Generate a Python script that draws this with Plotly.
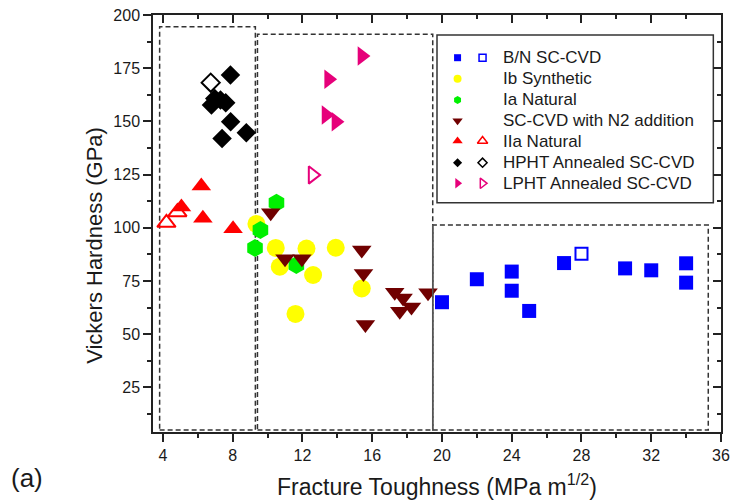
import plotly.graph_objects as go

# ---------------- data ----------------
bn_x = [20.0, 22.0, 24.0, 24.0, 25.0, 27.0, 30.5, 32.0, 34.0, 34.0]
bn_y = [65.0, 75.8, 79.4, 70.4, 60.9, 83.4, 80.9, 80.0, 83.3, 74.2]
bn_open_x = [28.0]
bn_open_y = [87.8]

ib_x = [9.36, 10.47, 10.70, 12.23, 12.61, 13.91, 15.40, 11.60]
ib_y = [101.8, 90.5, 81.7, 90.2, 77.8, 90.6, 71.5, 59.5]

ia_x = [10.51, 9.59, 9.28, 11.65]
ia_y = [111.8, 98.9, 90.5, 82.5]

n2_x = [10.18, 11.0, 11.97, 15.40, 15.50, 15.61, 17.29, 17.77, 18.25, 17.58, 19.2]
n2_y = [107.0, 85.4, 85.4, 89.5, 78.5, 54.5, 69.7, 67.0, 62.8, 60.8, 69.4]

iia_x = [6.20, 6.29, 8.02, 5.06]
iia_y = [119.6, 104.5, 99.5, 109.7]
iia_open_x = [4.2, 4.83]
iia_open_y = [102.3, 107.3]

hpht_x = [7.87, 6.97, 6.78, 7.60, 7.30, 7.88, 8.78, 7.39]
hpht_y = [171.8, 160.8, 157.7, 158.8, 160.0, 149.8, 144.7, 141.9]
hpht_open_x = [6.74]
hpht_open_y = [168.2]

lpht_x = [15.41, 13.50, 13.35, 13.92]
lpht_y = [180.7, 169.8, 153.0, 149.8]
lpht_open_x = [12.58]
lpht_open_y = [124.8]

legend_labels = ["B/N SC-CVD", "Ib Synthetic", "Ia Natural", "SC-CVD with N2 addition",
                 "IIa Natural", "HPHT Annealed SC-CVD", "LPHT Annealed SC-CVD"]

# region boxes (data coords): x0, x1, y0, y1
boxes = [(3.81, 9.30, 4.9, 194.5), (9.42, 19.47, 4.9, 190.9), (19.47, 35.27, 4.9, 101.3)]

x_range = [3.43, 36.0]
y_range = [4.0, 200.0]

# ---------------- styling ----------------
BLUE = "#0000FF"
YELLOW = "#FFFF00"
GREEN = "#00F000"
DRED = "#700000"
RED = "#FF0000"
BLACK = "#000000"
PINK = "#E6007A"
FONT = "Arial, Liberation Sans, sans-serif"
TXT = "#1a1a1a"

fig = go.Figure()

def filled(x, y, sym, color, size):
    fig.add_trace(go.Scatter(x=x, y=y, mode="markers", showlegend=False, hoverinfo="skip",
                             marker=dict(symbol=sym, color=color, size=size, line=dict(width=0))))

def hollow(x, y, sym, color, size):
    fig.add_trace(go.Scatter(x=x, y=y, mode="markers", showlegend=False, hoverinfo="skip",
                             marker=dict(symbol=sym + "-open", color=color, size=size,
                                         line=dict(width=2, color=color))))

filled(bn_x, bn_y, "square", BLUE, 14)
hollow(bn_open_x, bn_open_y, "square", BLUE, 12)
filled(ib_x, ib_y, "circle", YELLOW, 18)
filled(ia_x, ia_y, "hexagon", GREEN, 18)
filled(n2_x, n2_y, "triangle-down", DRED, 17)
filled(iia_x, iia_y, "triangle-up", RED, 17)
hollow(iia_open_x, iia_open_y, "triangle-up", RED, 16)
filled(hpht_x, hpht_y, "diamond", BLACK, 15)
hollow(hpht_open_x, hpht_open_y, "diamond", BLACK, 14)
filled(lpht_x, lpht_y, "triangle-right", PINK, 17)
hollow(lpht_open_x, lpht_open_y, "triangle-right", PINK, 15)

# dummy trace for mirrored axes
fig.add_trace(go.Scatter(x=[None], y=[None], xaxis="x2", yaxis="y2", showlegend=False,
                         hoverinfo="skip", mode="markers"))

# ---------------- legend (drawn in a 0..1 overlay axis) ----------------
leg_rows = [0.8976, 0.8472, 0.7962, 0.7465, 0.6978, 0.6458, 0.5964]
col_f, col_o, col_t = 0.5362, 0.5802, 0.6119
leg_syms = [("square", BLUE, True), ("circle", YELLOW, False), ("hexagon", GREEN, False),
            ("triangle-down", DRED, False), ("triangle-up", RED, True),
            ("diamond", BLACK, True), ("triangle-right", PINK, True)]
leg_sizes = [7, 8, 8, 9, 9, 7, 9]
for (sym, col, has_open), yy, sz, lab in zip(leg_syms, leg_rows, leg_sizes, legend_labels):
    fig.add_trace(go.Scatter(x=[col_f], y=[yy], xaxis="x3", yaxis="y3", mode="markers",
                             showlegend=False, hoverinfo="skip",
                             marker=dict(symbol=sym, color=col, size=sz, line=dict(width=0))))
    if has_open:
        fig.add_trace(go.Scatter(x=[col_o], y=[yy], xaxis="x3", yaxis="y3", mode="markers",
                                 showlegend=False, hoverinfo="skip",
                                 marker=dict(symbol=sym + "-open", color=col, size=sz,
                                             line=dict(width=1.5, color=col))))
    fig.add_annotation(x=col_t, y=yy, xref="paper", yref="paper", text=lab, showarrow=False,
                       xanchor="left", yanchor="middle", font=dict(family=FONT, size=17, color=TXT))

shapes = []
for x0, x1, y0, y1 in boxes:
    shapes.append(dict(type="rect", xref="x", yref="y", x0=x0, x1=x1, y0=y0, y1=y1,
                       line=dict(color="#333333", width=1.5, dash="5px,3px"), layer="below"))
shapes.append(dict(type="line", xref="x", yref="y", x0=boxes[2][0], x1=boxes[2][0],
                   y0=boxes[2][2], y1=boxes[2][3], line=dict(color="#555555", width=1.5)))
shapes.append(dict(type="rect", xref="paper", yref="paper", x0=0.500, x1=0.9865, y0=0.550, y1=0.952,
                   line=dict(color="#333333", width=1.5), fillcolor="white", layer="below"))

axis_common = dict(showgrid=False, zeroline=False, linecolor="#222222", linewidth=1.5,
                   tickcolor="#222222", tickwidth=1.5, automargin=False)

fig.update_layout(
    width=731, height=504,
    margin=dict(l=153, r=10, t=15, b=72),
    paper_bgcolor="white", plot_bgcolor="white",
    shapes=shapes,
    xaxis=dict(range=x_range, tick0=4, dtick=4, ticks="outside", ticklen=8, showline=True,
               tickfont=dict(family=FONT, size=16, color=TXT),
               minor=dict(dtick=2, ticks="outside", ticklen=4, tickcolor="#222222", tickwidth=1.5),
               **axis_common),
    yaxis=dict(range=y_range, tick0=0, dtick=25, ticks="outside", ticklen=8, showline=True,
               tickfont=dict(family=FONT, size=16, color=TXT),
               minor=dict(dtick=12.5, ticks="outside", ticklen=4, tickcolor="#222222", tickwidth=1.5),
               **axis_common),
    xaxis2=dict(range=x_range, overlaying="x", side="top", anchor="y", tick0=4, dtick=4,
                ticks="inside", ticklen=8, showticklabels=False, showline=True,
                minor=dict(dtick=2, ticks="inside", ticklen=4, tickcolor="#222222", tickwidth=1.5),
                **axis_common),
    yaxis2=dict(range=y_range, overlaying="y", side="right", anchor="x", tick0=0, dtick=25,
                ticks="inside", ticklen=8, showticklabels=False, showline=True,
                minor=dict(dtick=12.5, ticks="inside", ticklen=4, tickcolor="#222222", tickwidth=1.5),
                **axis_common),
    xaxis3=dict(range=[0, 1], overlaying="x", visible=False, fixedrange=True, automargin=False),
    yaxis3=dict(range=[0, 1], overlaying="y", visible=False, fixedrange=True, automargin=False),
    annotations=list(fig.layout.annotations) + [
        dict(x=0.5, y=-0.128, xref="paper", yref="paper", showarrow=False,
             text="Fracture Toughness (MPa m<sup>1/2</sup>)", xanchor="center", yanchor="middle",
             font=dict(family=FONT, size=23, color=TXT)),
        dict(x=-0.1027, y=0.448, xref="paper", yref="paper", showarrow=False, textangle=-90,
             text="Vickers Hardness (GPa)", xanchor="center", yanchor="middle",
             font=dict(family=FONT, size=22, color=TXT)),
        dict(x=-0.2225, y=-0.11, xref="paper", yref="paper", showarrow=False, text="(a)",
             xanchor="center", yanchor="middle", font=dict(family=FONT, size=26, color=TXT)),
    ],
)

fig.write_html("out.html")
